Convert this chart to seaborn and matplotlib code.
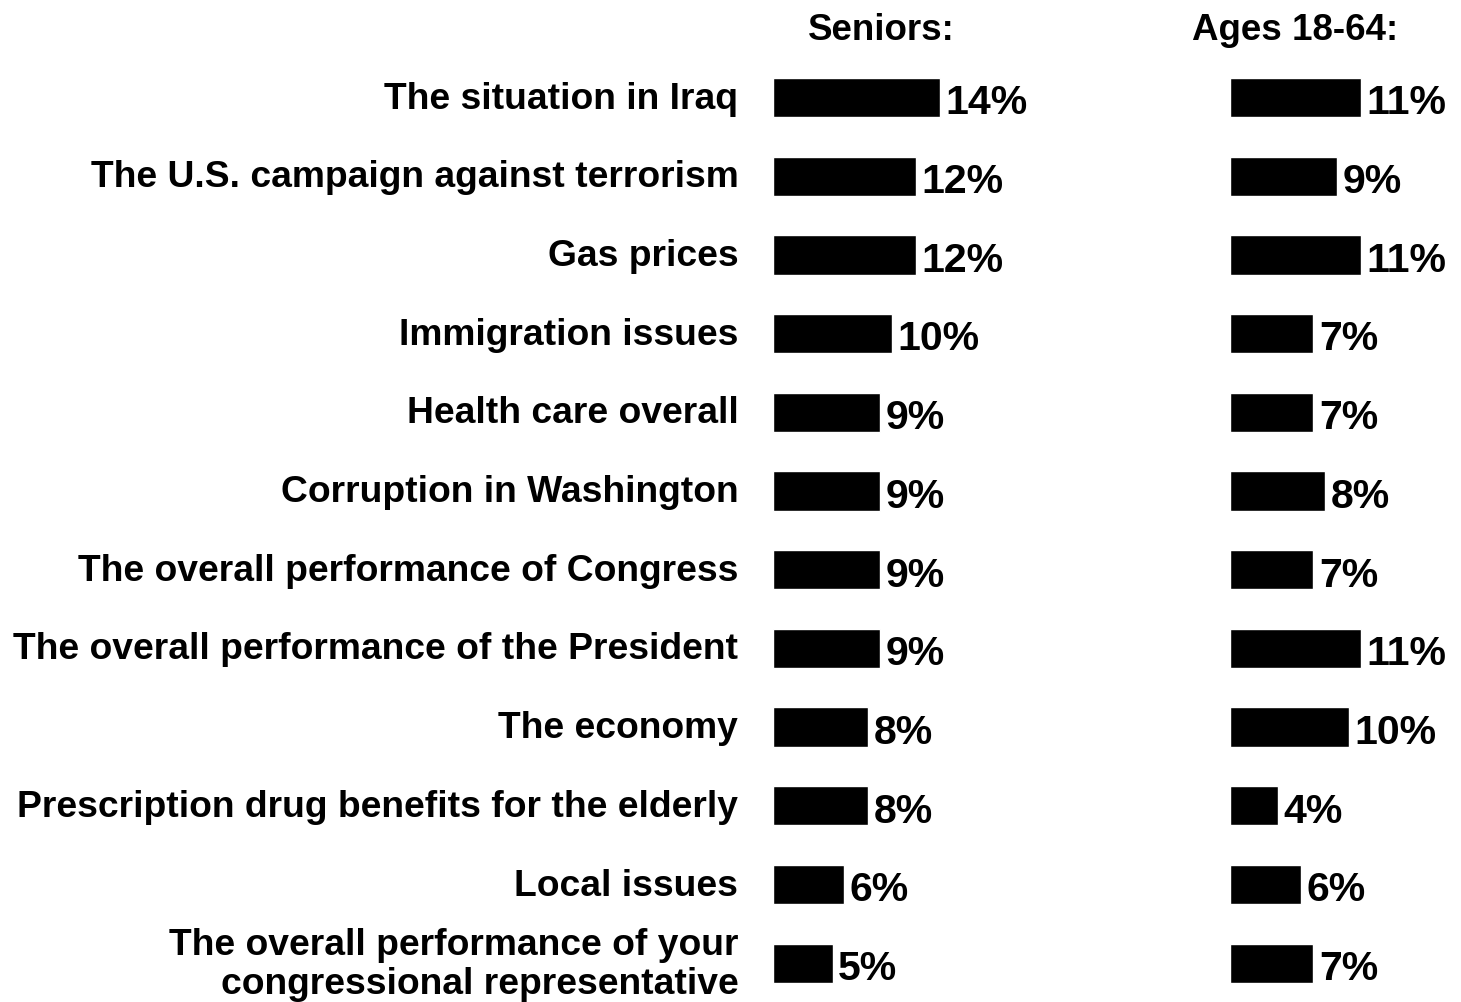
import matplotlib
matplotlib.use("Agg")
import matplotlib.pyplot as plt
import matplotlib.transforms as mtransforms
import seaborn as sns

# Data
issues = [
    "The situation in Iraq",
    "The U.S. campaign against terrorism",
    "Gas prices",
    "Immigration issues",
    "Health care overall",
    "Corruption in Washington",
    "The overall performance of Congress",
    "The overall performance of the President",
    "The economy",
    "Prescription drug benefits for the elderly",
    "Local issues",
    "The overall performance of your\ncongressional representative",
]
seniors = [14, 12, 12, 10, 9, 9, 9, 9, 8, 8, 6, 5]
ages_18_64 = [11, 9, 11, 7, 7, 8, 7, 11, 10, 4, 6, 7]
titles = ["Seniors:", "Ages 18-64:"]

sns.set_style("white")
plt.rcParams["font.family"] = ["Liberation Sans", "DejaVu Sans"]
plt.rcParams["font.weight"] = "bold"
plt.rcParams["text.color"] = "black"
plt.rcParams["ytick.color"] = "black"
plt.rcParams["ytick.labelcolor"] = "black"

W, H = 1461, 1003
fig = plt.figure(figsize=(W / 100, H / 100), dpi=100)

px_per_unit = 11.9
row_gap = 78.7
first_row = 98.5
ylim = ((H - first_row) / row_gap, -first_row / row_gap)

# left panel (seniors) and right panel (ages 18-64)
ax1 = fig.add_axes([773 / W, 0, 238 / W, 1])
ax2 = fig.add_axes([1230 / W, 0, 226 / W, 1])

for ax, vals, width in [(ax1, seniors, 238), (ax2, ages_18_64, 226)]:
    sns.barplot(x=vals, y=issues, orient="h", color="black", width=0.5,
                saturation=1, ax=ax)
    ax.set_xlim(0, width / px_per_unit)
    ax.set_ylim(*ylim)
    anns = ax.bar_label(ax.containers[0], labels=[f"{v}%" for v in vals],
                        padding=4, fontsize=29.5, fontweight="bold",
                        color="black")
    for a in anns:
        x0, y0 = a.xyann
        a.xyann = (x0, y0 - 3.5)
    for s in ax.spines.values():
        s.set_visible(False)
    ax.set_xticks([])
    ax.set_xlabel("")
    ax.set_ylabel("")

ax1.tick_params(axis="y", length=0, pad=25, labelsize=26.8)
labels = ax1.get_yticklabels()
for i, lbl in enumerate(labels):
    lbl.set_fontweight("bold")
    lbl.set_color("black")
    up = 2.5
    if "\n" in lbl.get_text():
        lbl.set_linespacing(1.15)
        up = 3.5
    lbl.set_transform(lbl.get_transform() +
                      mtransforms.ScaledTranslation(0, up / 72, fig.dpi_scale_trans))
ax2.set_yticks([])

fig.text(881 / W, 1 - 31 / H, titles[0], ha="center", va="center",
         fontsize=26.5, fontweight="bold", color="black")
fig.text(1295 / W, 1 - 31 / H, titles[1], ha="center", va="center",
         fontsize=26.5, fontweight="bold", color="black")

fig.savefig("out.png", dpi=100, facecolor="white")
